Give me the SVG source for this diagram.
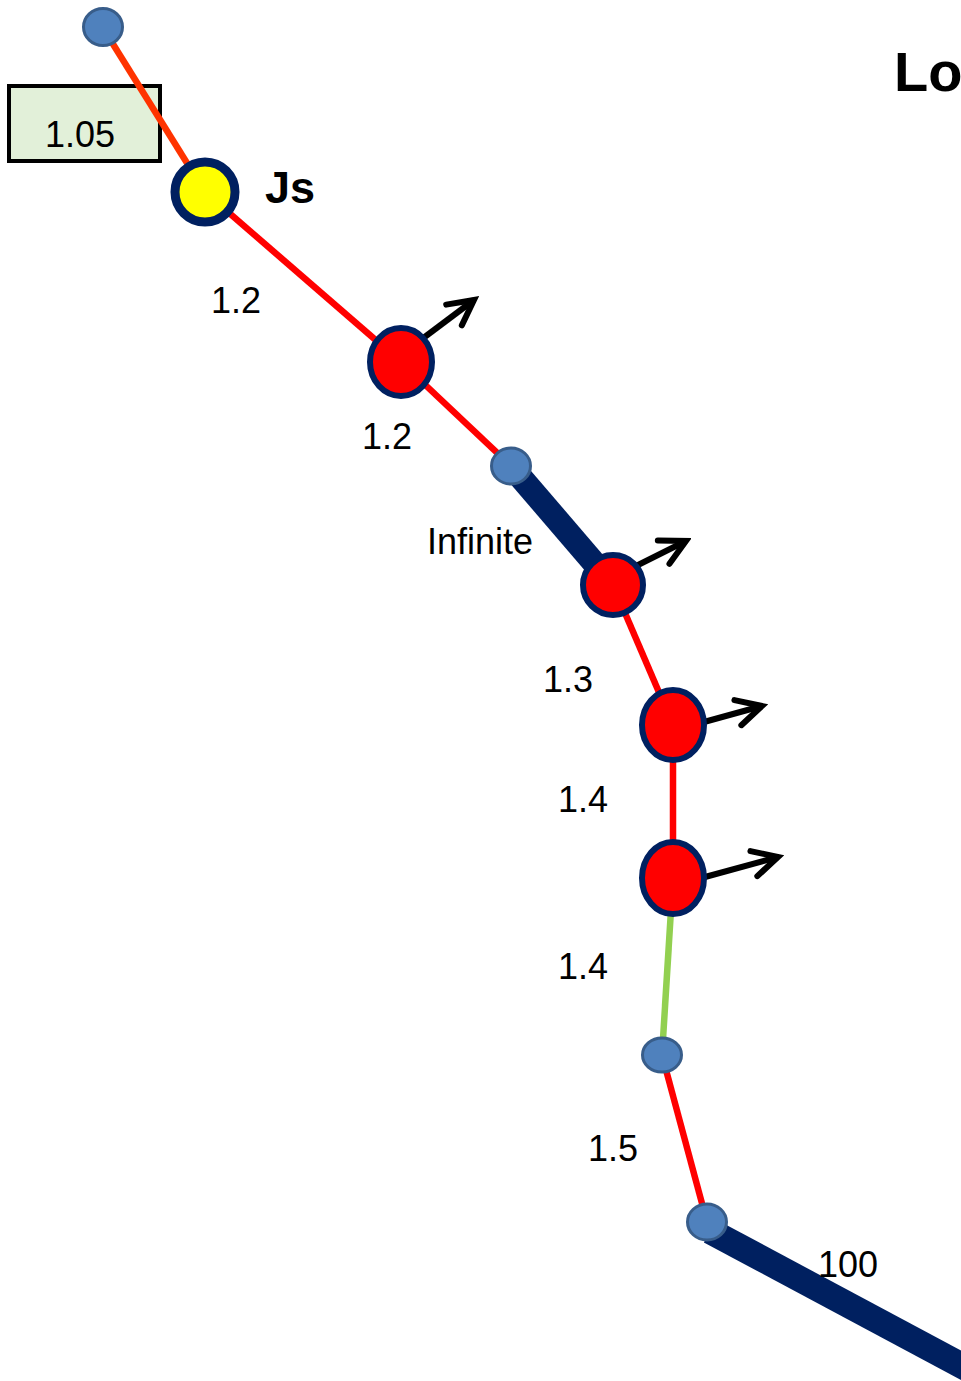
<svg xmlns="http://www.w3.org/2000/svg" width="961" height="1381" viewBox="0 0 961 1381">
<style>
.lbl{font-family:"Liberation Sans",Arial,sans-serif;font-size:36px;fill:#000}
.bold{font-family:"Liberation Sans",Arial,sans-serif;font-weight:bold;fill:#000}
.red{stroke:#FF0000;stroke-width:6.5;fill:none}
.thick{stroke:#002060;fill:none}
.junc{fill:#4F81BD;stroke:#385D8A;stroke-width:3}
.load{fill:#FF0000;stroke:#002060;stroke-width:6}
.arr{stroke:#000;stroke-width:6;fill:none;marker-end:url(#chev)}
</style>
<defs>
<marker id="chev" markerUnits="userSpaceOnUse" viewBox="-32 -18 38 36" markerWidth="38" markerHeight="36" refX="0" refY="0" orient="auto">
<path d="M-25,-13 L0,0 L-25,13" fill="none" stroke="#000" stroke-width="6" stroke-linecap="round"/>
</marker>
</defs>
<rect width="961" height="1381" fill="#fff"/>
<g id="box105">
<rect x="9" y="86" width="151" height="75" fill="#E2F0D9" stroke="#000" stroke-width="4"/>
<text class="lbl" x="80" y="147" text-anchor="middle">1.05</text>
</g>
<g id="connectors">
<line x1="103" y1="28" x2="205" y2="192" stroke="#FF3300" stroke-width="6.5"/>
<line class="red" x1="205" y1="192" x2="401" y2="362"/>
<line class="red" x1="401" y1="362" x2="511" y2="466"/>
<line class="thick" x1="511" y1="466" x2="613" y2="585" stroke-width="24"/>
<line class="red" x1="613" y1="585" x2="673" y2="725"/>
<line class="red" x1="673" y1="725" x2="673" y2="878" stroke-width="9"/>
<line x1="673" y1="878" x2="662" y2="1055" stroke="#92D050" stroke-width="6.5"/>
<line class="red" x1="662" y1="1055" x2="707" y2="1222"/>
<line class="thick" x1="710" y1="1231" x2="1000" y2="1386" stroke-width="26"/>
<line class="arr" x1="422" y1="339" x2="474" y2="300"/>
<line class="arr" x1="636" y1="566" x2="686" y2="541"/>
<line class="arr" x1="704" y1="722" x2="762" y2="706"/>
<line class="arr" x1="705" y1="877" x2="778" y2="857"/>
</g>
<g id="title"><text class="bold" x="894" y="91" font-size="56">Lo</text></g>
<g id="n1"><ellipse class="junc" cx="103" cy="27" rx="19.5" ry="18.5"/></g>
<g id="js">
<circle cx="205" cy="192" r="30" fill="#FFFF00" stroke="#002060" stroke-width="9"/>
<text class="bold" x="265" y="203" font-size="45">Js</text>
</g>
<g id="load1"><ellipse class="load" cx="401" cy="362" rx="31" ry="34"/></g>
<g id="n2"><ellipse class="junc" cx="511" cy="466" rx="19.5" ry="18"/></g>
<g id="load2"><ellipse class="load" cx="613" cy="585" rx="30" ry="30"/></g>
<g id="load3"><ellipse class="load" cx="673" cy="725" rx="31" ry="35"/></g>
<g id="load4"><ellipse class="load" cx="673" cy="878" rx="31" ry="36"/></g>
<g id="n3"><ellipse class="junc" cx="662" cy="1055" rx="19.5" ry="17"/></g>
<g id="n4"><ellipse class="junc" cx="707" cy="1222" rx="19.5" ry="18"/></g>
<g id="labels">
<text class="lbl" x="211" y="313">1.2</text>
<text class="lbl" x="362" y="449">1.2</text>
<text class="lbl" x="427" y="554">Infinite</text>
<text class="lbl" x="543" y="692">1.3</text>
<text class="lbl" x="558" y="812">1.4</text>
<text class="lbl" x="558" y="979">1.4</text>
<text class="lbl" x="588" y="1161">1.5</text>
<text class="lbl" x="818" y="1277">100</text>
</g>
</svg>
